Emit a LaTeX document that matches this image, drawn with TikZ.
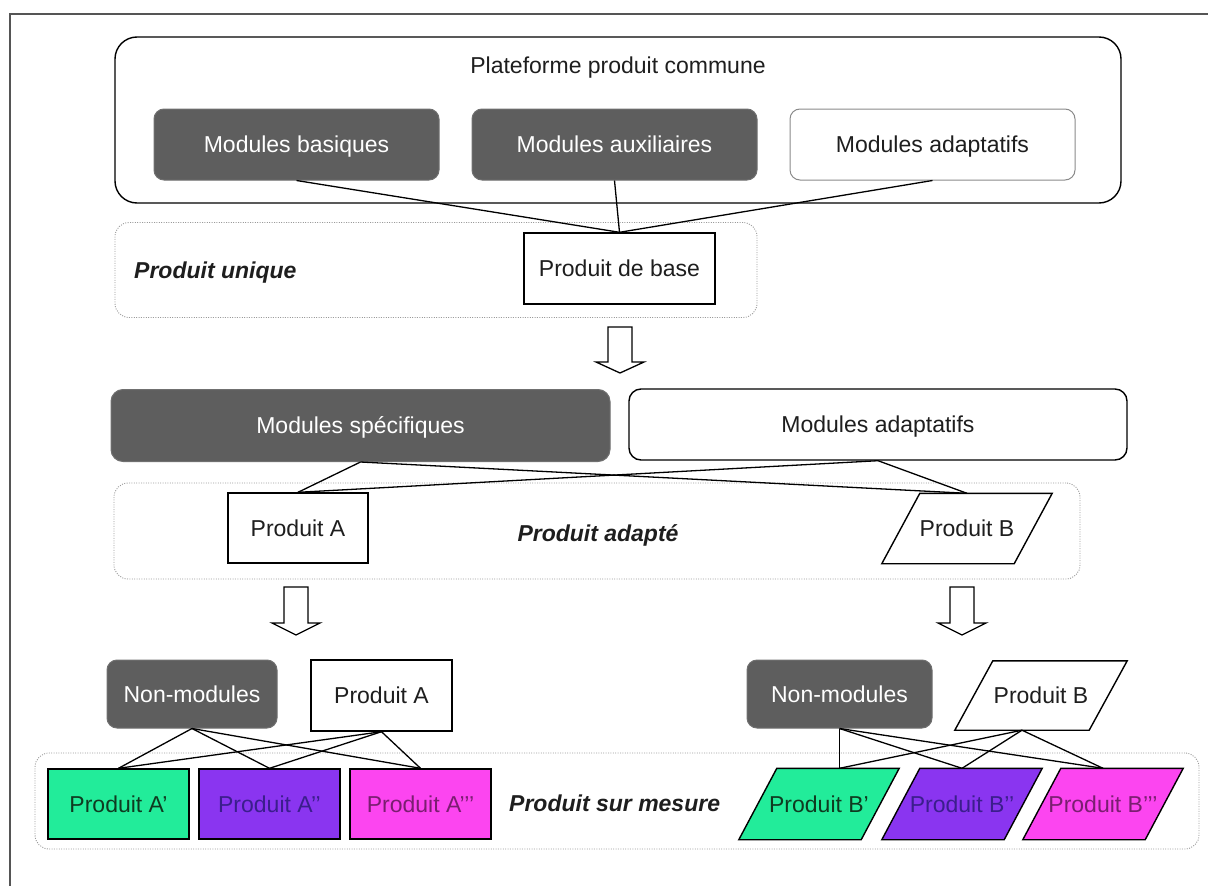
\documentclass[tikz,border=0pt]{standalone}
\usepackage{fontspec}
\setmainfont{Liberation Sans}
\usetikzlibrary{calc,backgrounds}
\definecolor{darkbox}{HTML}{5E5E5E}
\definecolor{darkedge}{HTML}{707070}
\definecolor{framegray}{HTML}{555555}
\definecolor{dotgray}{HTML}{9A9A9A}
\definecolor{softedge}{HTML}{8A8A8A}
\definecolor{pgreen}{HTML}{22EC9A}
\definecolor{ppurple}{HTML}{8A35F0}
\definecolor{pmagenta}{HTML}{FC45F0}
\definecolor{tgreen}{HTML}{0F3A20}
\definecolor{tpurple}{HTML}{3B1E8C}
\definecolor{tmagenta}{HTML}{7A1E70}
\definecolor{txt}{HTML}{1E1E1E}
% parallelogram behind a named (invisible) text node: #1 node name, #2 fill colour
\newcommand{\drawslanted}[2]{%
  \begin{scope}[on background layer]
    \path[draw=black, line width=1.4pt, fill=#2]
      ($(#1.south west)+(-19,0)$) -- ($(#1.south east)+(-19,0)$) --
      ($(#1.north east)+(19,0)$) -- ($(#1.north west)+(19,0)$) -- cycle;
  \end{scope}}
\begin{document}
\begin{tikzpicture}[x=1pt,y=-1pt,
  every node/.style={font=\fontsize{23}{27}\selectfont, text=txt, inner sep=0pt, text height=16.5pt, text depth=0pt},
  darkmod/.style={draw=darkedge, line width=1pt, fill=darkbox, rounded corners=10pt, text=white, minimum width=#1, minimum height=71pt},
  whitemod/.style={draw=softedge, line width=1pt, fill=white, rounded corners=10pt, minimum width=#1, minimum height=71pt},
  whitemodb/.style={draw=black, line width=1.4pt, fill=white, rounded corners=12pt, minimum width=#1, minimum height=71pt},
  prodbox/.style={draw=black, line width=1.4pt, minimum width=#1, minimum height=71pt},
  parabody/.style={minimum width=#1, minimum height=70pt},
  groupbox/.style={draw=dotgray, line width=0.9pt, dash pattern=on 1pt off 1.4pt, rounded corners=14pt, minimum width=#1, minimum height=95pt},
  grouplabel/.style={font=\fontsize{23}{27}\selectfont\bfseries\itshape},
  conn/.style={draw=black, line width=1.3pt},
  blockarrow/.style={draw=black, line width=1.3pt, fill=white},
  outerframe/.style={draw=framegray, line width=2pt}
]
\useasboundingbox (0,0) rectangle (1208,886);
\draw[outerframe] (10,886) -- (10,14) -- (1208,14);

% ---------- row 1 ----------
\node[draw=black, line width=1.4pt, rounded corners=22pt, minimum width=1006pt, minimum height=166pt] (plat) at (618,120) {};
\node (platlbl) at (618,65) {Plateforme produit commune};
\node[darkmod=285pt] (mb) at (296.5,144.5) {Modules basiques};
\node[darkmod=285pt] (ma) at (614.5,144.5) {Modules auxiliaires};
\node[whitemod=285pt] (mad) at (932.5,144.5) {Modules adaptatifs};

\node[groupbox=642pt] (unique) at (436,270) {};
\node[grouplabel, anchor=west] (uniquelbl) at (134,270) {Produit unique};
\node[prodbox=191pt, fill=white] (pbase) at (619.5,268.5) {Produit de base};

\draw[conn] (mb.south) -- (pbase.north);
\draw[conn] (ma.south) -- (pbase.north);
\draw[conn] (mad.south) -- (pbase.north);

% arrow 1
\coordinate (a1) at (620,327);
\draw[blockarrow] (a1) ++(-12,0) -- ++(0,35) -- ++(-12,0) -- ++(24,11) -- ++(24,-11) -- ++(-12,0) -- ++(0,-35) -- cycle;

% ---------- row 2 ----------
\node[darkmod=499pt, minimum height=72pt, rounded corners=12pt] (ms) at (360.5,425.5) {Modules spécifiques};
\node[whitemodb=498pt] (mad2) at (878,424.5) {Modules adaptatifs};

\node[groupbox=966pt, minimum height=96pt] (adapte) at (597,531) {};
\node[prodbox=140pt, minimum height=70pt, fill=white] (pA) at (298,528) {Produit A};
\node[grouplabel] (adaptelbl) at (598,533) {Produit adapté};
\node[parabody=132pt] (pB) at (967,528.5) {Produit B};
\drawslanted{pB}{white}

\draw[conn] (ms.south) -- (pA.north);
\draw[conn] (ms.south) -- (pB.north);
\draw[conn] (mad2.south) -- (pA.north);
\draw[conn] (mad2.south) -- (pB.north);

% arrows 2 and 3
\coordinate (a2) at (296,587);
\draw[blockarrow] (a2) ++(-12,0) -- ++(0,36) -- ++(-12,0) -- ++(24,12) -- ++(24,-12) -- ++(-12,0) -- ++(0,-36) -- cycle;
\coordinate (a3) at (962,587);
\draw[blockarrow] (a3) ++(-12,0) -- ++(0,36) -- ++(-12,0) -- ++(24,12) -- ++(24,-12) -- ++(-12,0) -- ++(0,-36) -- cycle;

% ---------- row 3 ----------
\node[groupbox=1164pt, minimum height=96pt] (mesure) at (617,801) {};
\node[grouplabel, anchor=west] (mesurelbl) at (509,803) {Produit sur mesure};

\node[darkmod=170pt, minimum height=68pt] (nm1) at (192,694) {Non-modules};
\node[prodbox=141pt, fill=white] (pA3) at (381.5,695.5) {Produit A};
\node[prodbox=141pt, minimum height=70pt, fill=pgreen, text=tgreen] (A1) at (118.5,804) {Produit A'};
\node[prodbox=141pt, minimum height=70pt, fill=ppurple, text=tpurple] (A2) at (269.5,804) {Produit A'{}'};
\node[prodbox=141pt, minimum height=70pt, fill=pmagenta, text=tmagenta] (A3) at (420.5,804) {Produit A'{}'{}'};

\foreach \t in {A1,A2,A3} {
  \draw[conn] (nm1.south) -- (\t.north);
  \draw[conn] (pA3.south) -- (\t.north);
}

\node[darkmod=185pt, minimum height=68pt] (nm2) at (839.5,694) {Non-modules};
\node[parabody=134pt, minimum height=69pt] (pB3) at (1041,695.5) {Produit B};
\drawslanted{pB3}{white}
\node[parabody=122pt, minimum height=71pt, text=tgreen] (B1) at (819,804) {Produit B'};
\drawslanted{B1}{pgreen}
\node[parabody=122pt, minimum height=71pt, text=tpurple] (B2) at (962,804) {Produit B'{}'};
\drawslanted{B2}{ppurple}
\node[parabody=122pt, minimum height=71pt, text=tmagenta] (B3) at (1103,804) {Produit B'{}'{}'};
\drawslanted{B3}{pmagenta}

\coordinate (pB3b) at ($(pB3.south)+(-19,0)$);
\coordinate (b1t) at (nm2.south |- B1.north);
\foreach \t in {b1t,B2.north,B3.north} {
  \draw[conn] (nm2.south) -- (\t);
  \draw[conn] (pB3b) -- (\t);
}
\end{tikzpicture}
\end{document}
